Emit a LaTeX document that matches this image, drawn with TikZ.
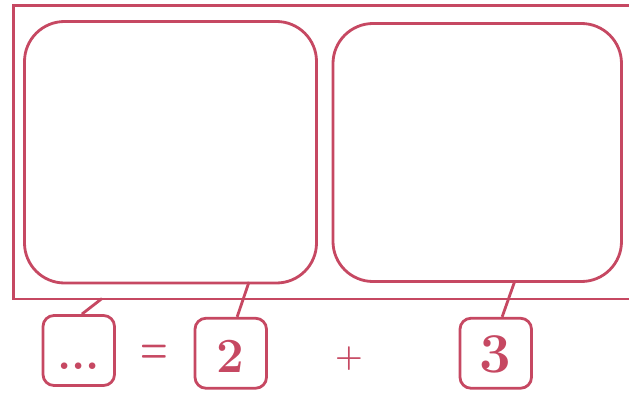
\documentclass[tikz,border=0pt]{standalone}
\definecolor{rosered}{RGB}{198,72,98}
\usetikzlibrary{positioning}

\begin{document}
\begin{tikzpicture}
  \tikzset{panel/.style = {draw=rosered, line width=1.6pt, rounded corners=.8cm}}
  \tikzset{numbox/.style = {draw=rosered, line width=1.6pt, rounded corners=.22cm, minimum width=1.43cm, minimum height=1.4cm, inner sep=0pt, text=rosered, text height=.76cm, text depth=0cm, font=\fontsize{28}{30}\selectfont\bfseries}}
  \tikzset{sign/.style = {text=rosered, inner sep=0pt, font=\fontsize{18}{20}\selectfont\bfseries}}

  \useasboundingbox (0,0) rectangle (12.58,7.84);

  \node[draw=rosered, line width=1.6pt, minimum width=12.7cm, minimum height=5.87cm] (frame) at (6.62,4.795) {};
  \node[panel, minimum width=5.84cm, minimum height=5.23cm] (left) at (3.41,4.795) {};
  \node[panel, minimum width=5.77cm, minimum height=5.16cm] (right) at (9.545,4.79) {};

  \node[numbox, font=\fontsize{26}{28}\selectfont\bfseries] (dots) at (1.575,.83) {...};
  \node[sign] (eq) at (3.08,.75) {\scalebox{1}[1.5]{=}};
  \node[numbox] (two) at (4.615,.775) {2};
  \node[sign] (plus) at (6.98,.66) {+};
  \node[numbox, font=\fontsize{32}{34}\selectfont\bfseries] (three) at (9.915,.775) {3};

  \coordinate (d1) at (2.04,1.87);
  \coordinate (d2) at (4.98,2.2);
  \coordinate (d3) at (10.3,2.23);

  \draw[rosered, line width=1.6pt] (dots.85) -- (d1);
  \draw[rosered, line width=1.6pt] (two.80) -- (d2);
  \draw[rosered, line width=1.6pt] (three.80) -- (d3);
\end{tikzpicture}
\end{document}
